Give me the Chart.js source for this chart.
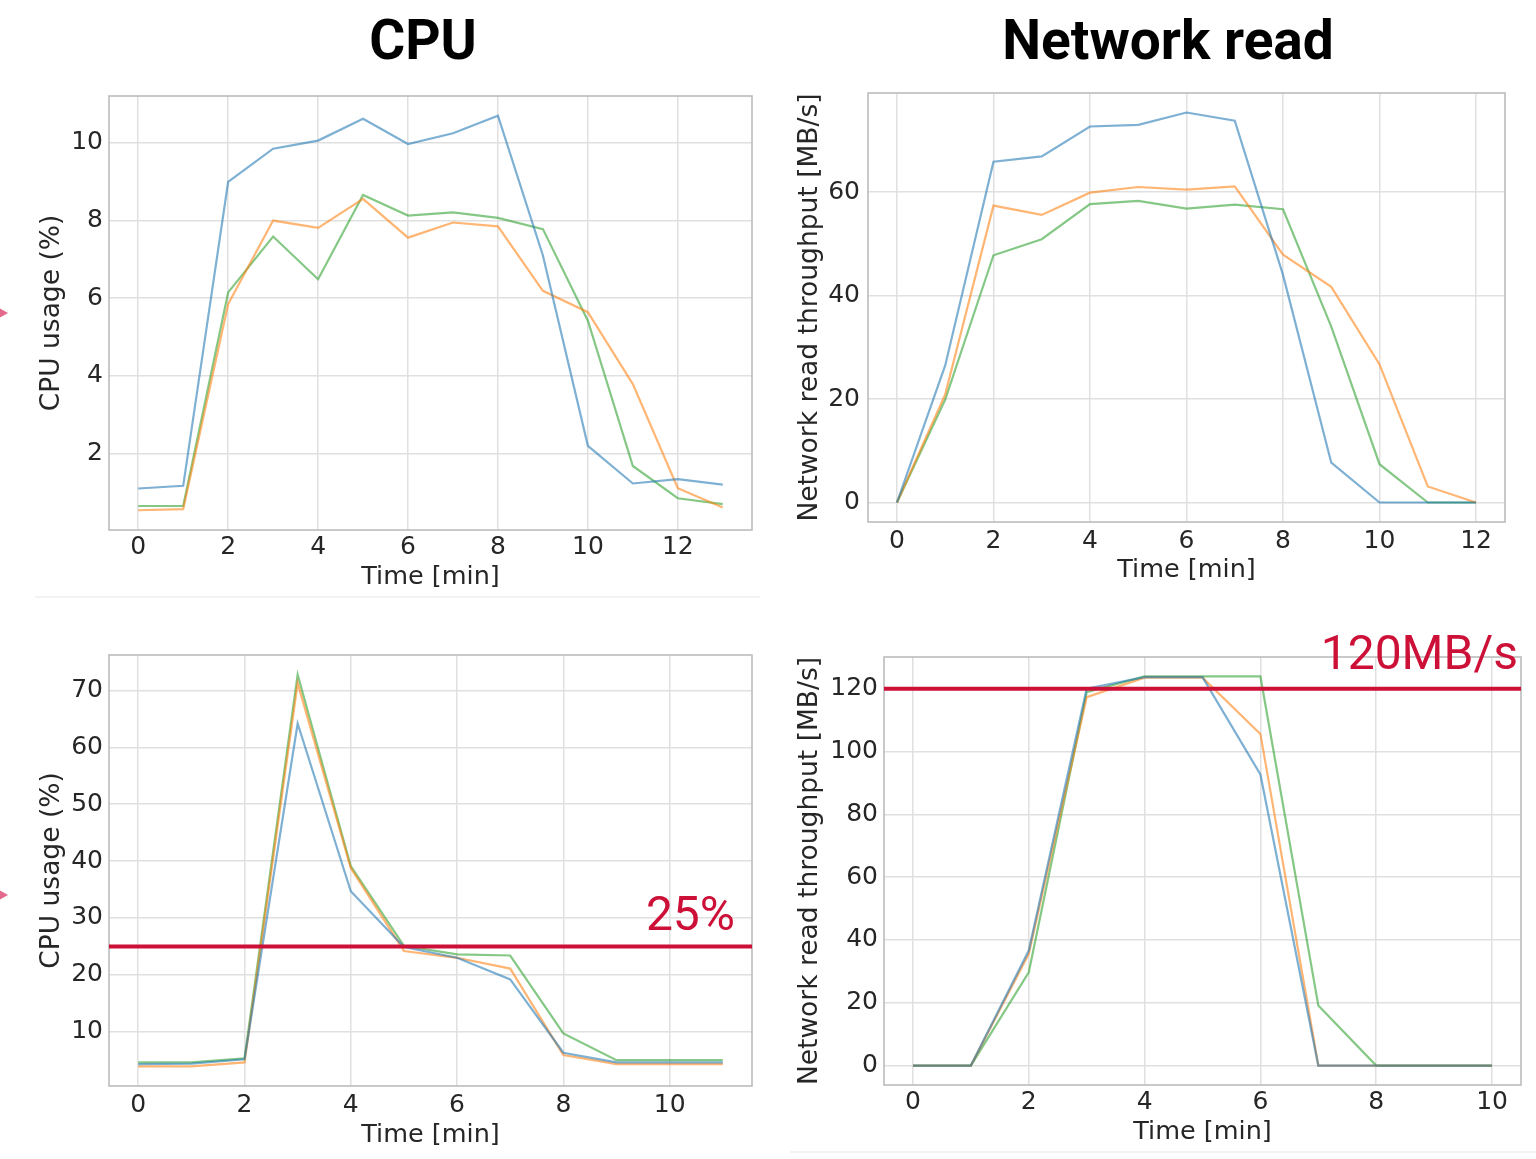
<!DOCTYPE html>
<html>
<head>
<meta charset="utf-8">
<script src="https://cdn.jsdelivr.net/npm/chart.js@4.4.1/dist/chart.umd.min.js"></script>
<style>
  html, body { margin: 0; padding: 0; background: #ffffff; }
  body { width: 1536px; height: 1159px; position: relative; overflow: hidden; }
  canvas { position: absolute; }
  .title {
    position: absolute; top: 8px; font-family: Roboto, "Noto Sans", sans-serif;
    font-weight: 700; font-size: 55px; line-height: 64px; color: #000;
    transform: translateX(-50%); white-space: nowrap;
  }
  .sep { position: absolute; height: 2px; background: #f3f3f3; }
  .tip {
    position: absolute; left: -6px; width: 0; height: 0;
    border-top: 8px solid transparent; border-bottom: 8px solid transparent;
    border-left: 14px solid #e36a8c;
  }
</style>
</head>
<body>
<div class="title" style="left:423px">CPU</div>
<div class="title" style="left:1168px">Network read</div>
<div class="sep" style="left:35px; top:596px; width:725px"></div>
<div class="sep" style="left:790px; top:1151px; width:746px"></div>
<div class="tip" style="top:305px"></div>
<div class="tip" style="top:887px"></div>

<canvas id="cpuTop" width="756" height="508" style="left:0px; top:92px"></canvas>
<canvas id="netTop" width="739" height="506" style="left:770px; top:89px"></canvas>
<canvas id="cpuBottom" width="756" height="508" style="left:0px; top:651px"></canvas>
<canvas id="netBottom" width="766" height="544" style="left:770px; top:615px"></canvas>

<script>
// ---- Top row: CPU usage (%) per minute, three runs ----
const cpuTopMinutes = [0, 1, 2, 3, 4, 5, 6, 7, 8, 9, 10, 11, 12, 13];
const cpuTopRun1 = [1.10, 1.17, 9.00, 9.85, 10.06, 10.62, 9.97, 10.25, 10.70, 7.10, 2.20, 1.23, 1.34, 1.20];
const cpuTopRun2 = [0.54, 0.57, 5.85, 8.00, 7.81, 8.56, 7.56, 7.95, 7.85, 6.19, 5.64, 3.79, 1.11, 0.61];
const cpuTopRun3 = [0.65, 0.65, 6.15, 7.59, 6.49, 8.66, 8.13, 8.21, 8.07, 7.78, 5.42, 1.68, 0.85, 0.70];
const cpuTopTicksX = [0, 2, 4, 6, 8, 10, 12];
const cpuTopTicksY = [2, 4, 6, 8, 10];

// ---- Top row: network read throughput (MB/s) ----
const netTopMinutes = [0, 1, 2, 3, 4, 5, 6, 7, 8, 9, 10, 11, 12];
const netTopRun1 = [0, 26.5, 65.9, 66.9, 72.7, 73.0, 75.4, 73.8, 44.0, 7.7, 0, 0, 0];
const netTopRun2 = [0, 20.9, 57.4, 55.6, 59.9, 61.0, 60.5, 61.1, 47.9, 41.7, 26.7, 3.1, 0];
const netTopRun3 = [0, 19.9, 47.8, 50.9, 57.7, 58.3, 56.8, 57.6, 56.7, 34.0, 7.4, 0, 0];
const netTopTicksX = [0, 2, 4, 6, 8, 10, 12];
const netTopTicksY = [0, 20, 40, 60];

// ---- Bottom row: CPU usage (%) ----
const cpuBottomMinutes = [0, 1, 2, 3, 4, 5, 6, 7, 8, 9, 10, 11];
const cpuBottomRun1 = [4.3, 4.4, 5.15, 64.2, 34.7, 24.9, 23.0, 19.2, 6.3, 4.6, 4.6, 4.6];
const cpuBottomRun2 = [3.9, 3.9, 4.6, 71.3, 38.8, 24.2, 23.0, 21.1, 5.9, 4.3, 4.3, 4.3];
const cpuBottomRun3 = [4.6, 4.6, 5.3, 72.8, 39.1, 25.1, 23.6, 23.4, 9.7, 5.0, 5.0, 5.0];
const cpuBottomTicksX = [0, 2, 4, 6, 8, 10];
const cpuBottomTicksY = [10, 20, 30, 40, 50, 60, 70];
const cpuLimitValue = 25;
const cpuLimitLabel = '25%';

// ---- Bottom row: network read throughput (MB/s) ----
const netBottomMinutes = [0, 1, 2, 3, 4, 5, 6, 7, 8, 9, 10];
const netBottomRun1 = [0, 0, 36.6, 120.0, 123.7, 123.7, 92.7, 0, 0, 0, 0];
const netBottomRun2 = [0, 0, 35.6, 117.3, 123.5, 123.5, 105.6, 0, 0, 0, 0];
const netBottomRun3 = [0, 0, 29.7, 118.9, 123.9, 123.9, 123.9, 19.1, 0, 0, 0];
const netBottomTicksX = [0, 2, 4, 6, 8, 10];
const netBottomTicksY = [0, 20, 40, 60, 80, 100, 120];
const netLimitValue = 120;
const netLimitLabel = '120MB/s';

const runNames = ['Run 1', 'Run 2', 'Run 3'];
const runColors = ['rgba(31,119,180,0.58)', 'rgba(255,127,14,0.58)', 'rgba(44,160,44,0.58)'];

const TICK_FONT = { family: 'DejaVu Sans', size: 25 };
const XTITLE_FONT = { family: 'DejaVu Sans', size: 25.5 };
const YTITLE_FONT = { family: 'DejaVu Sans', size: 26.5 };
const TEXT_COLOR = '#262626';
const GRID_COLOR = '#e0e0e0';
const FRAME_COLOR = '#bcbcbc';
const LIMIT_COLOR = '#cc1037';

// matplotlib-style autoscale: 5% margin on each side of the data range
function padded(values) {
  const lo = Math.min(...values), hi = Math.max(...values);
  const m = (hi - lo) * 0.05;
  return { min: lo - m, max: hi + m };
}

// box around the plotting area
const framePlugin = {
  id: 'frame',
  beforeDatasetsDraw(chart) {
    const a = chart.chartArea, ctx = chart.ctx;
    ctx.save();
    ctx.strokeStyle = FRAME_COLOR;
    ctx.lineWidth = 1.6;
    ctx.strokeRect(a.left, a.top, a.right - a.left, a.bottom - a.top);
    ctx.restore();
  }
};

// horizontal limit line with its caption
const limitPlugin = {
  id: 'limit',
  afterDatasetsDraw(chart, args, opts) {
    if (opts.value === undefined) return;
    const a = chart.chartArea, ctx = chart.ctx;
    const y = chart.scales.y.getPixelForValue(opts.value);
    ctx.save();
    ctx.strokeStyle = LIMIT_COLOR;
    ctx.lineWidth = 4;
    ctx.beginPath();
    ctx.moveTo(a.left, y);
    ctx.lineTo(a.right, y);
    ctx.stroke();
    ctx.fillStyle = LIMIT_COLOR;
    ctx.font = '48px Roboto, "Noto Sans", sans-serif';
    ctx.textAlign = 'right';
    ctx.textBaseline = 'alphabetic';
    ctx.fillText(opts.label, a.right - opts.textInset, y - opts.textRise);
    ctx.restore();
  }
};

function makeChart(id, minutes, runs, ticksX, ticksY, yTitle, layout, limit) {
  const allY = [].concat(...runs);
  const xr = padded(minutes), yr = padded(allY);
  const datasets = runs.map((vals, k) => ({
    label: runNames[k],
    data: minutes.map((t, i) => ({ x: t, y: vals[i] })),
    borderColor: runColors[k],
    borderWidth: 2.2,
    pointRadius: 0,
    fill: false,
    tension: 0
  }));
  return new Chart(document.getElementById(id), {
    type: 'line',
    data: { datasets },
    plugins: [framePlugin, limitPlugin],
    options: {
      responsive: false,
      animation: false,
      devicePixelRatio: 1,
      layout: { padding: layout.pad },
      plugins: {
        legend: { display: false },
        tooltip: { enabled: false },
        limit: limit || {}
      },
      scales: {
        x: {
          type: 'linear', position: 'bottom',
          min: xr.min, max: xr.max,
          afterBuildTicks: s => { s.ticks = ticksX.map(v => ({ value: v })); },
          afterFit: s => { s.height = layout.xHeight; s.paddingLeft = 0; s.paddingRight = 0; },
          grid: { color: GRID_COLOR, lineWidth: 1.5, drawTicks: false },
          border: { display: false },
          ticks: { padding: layout.xTickPad, color: TEXT_COLOR, font: TICK_FONT, maxRotation: 0 },
          title: { display: true, text: 'Time [min]', color: TEXT_COLOR, font: XTITLE_FONT,
                   padding: { top: 0, bottom: layout.xTitlePad } }
        },
        y: {
          type: 'linear', position: 'left',
          min: yr.min, max: yr.max,
          afterBuildTicks: s => { s.ticks = ticksY.map(v => ({ value: v })); },
          afterFit: s => { s.width = layout.yWidth; s.paddingTop = 0; s.paddingBottom = 0; },
          grid: { color: GRID_COLOR, lineWidth: 1.5, drawTicks: false },
          border: { display: false },
          ticks: { padding: layout.yTickPad, color: TEXT_COLOR, font: TICK_FONT },
          title: { display: true, text: yTitle, color: TEXT_COLOR, font: YTITLE_FONT,
                   padding: { top: layout.yTitlePad, bottom: 0 } }
        }
      }
    }
  });
}

makeChart('cpuTop', cpuTopMinutes, [cpuTopRun1, cpuTopRun2, cpuTopRun3],
  cpuTopTicksX, cpuTopTicksY, 'CPU usage (%)',
  { pad: { top: 4, right: 4, bottom: 0, left: 0 }, xHeight: 70, yWidth: 109,
    xTickPad: 2, xTitlePad: 7.7, yTickPad: 6, yTitlePad: 36.1 });

makeChart('netTop', netTopMinutes, [netTopRun1, netTopRun2, netTopRun3],
  netTopTicksX, netTopTicksY, 'Network read throughput [MB/s]',
  { pad: { top: 4, right: 4, bottom: 0, left: 0 }, xHeight: 73, yWidth: 98,
    xTickPad: 4, xTitlePad: 9.7, yTickPad: 8, yTitlePad: 24.1 });

makeChart('cpuBottom', cpuBottomMinutes, [cpuBottomRun1, cpuBottomRun2, cpuBottomRun3],
  cpuBottomTicksX, cpuBottomTicksY, 'CPU usage (%)',
  { pad: { top: 4, right: 4, bottom: 0, left: 0 }, xHeight: 73, yWidth: 109,
    xTickPad: 4, xTitlePad: 8.7, yTickPad: 6, yTitlePad: 36.1 },
  { value: cpuLimitValue, label: cpuLimitLabel, textInset: 17, textRise: 16 });

makeChart('netBottom', netBottomMinutes, [netBottomRun1, netBottomRun2, netBottomRun3],
  netBottomTicksX, netBottomTicksY, 'Network read throughput [MB/s]',
  { pad: { top: 42, right: 15, bottom: 0, left: 0 }, xHeight: 74, yWidth: 114,
    xTickPad: 2, xTitlePad: 11.7, yTickPad: 6, yTitlePad: 24.1 },
  { value: netLimitValue, label: netLimitLabel, textInset: 3, textRise: 20 });
</script>
</body>
</html>
